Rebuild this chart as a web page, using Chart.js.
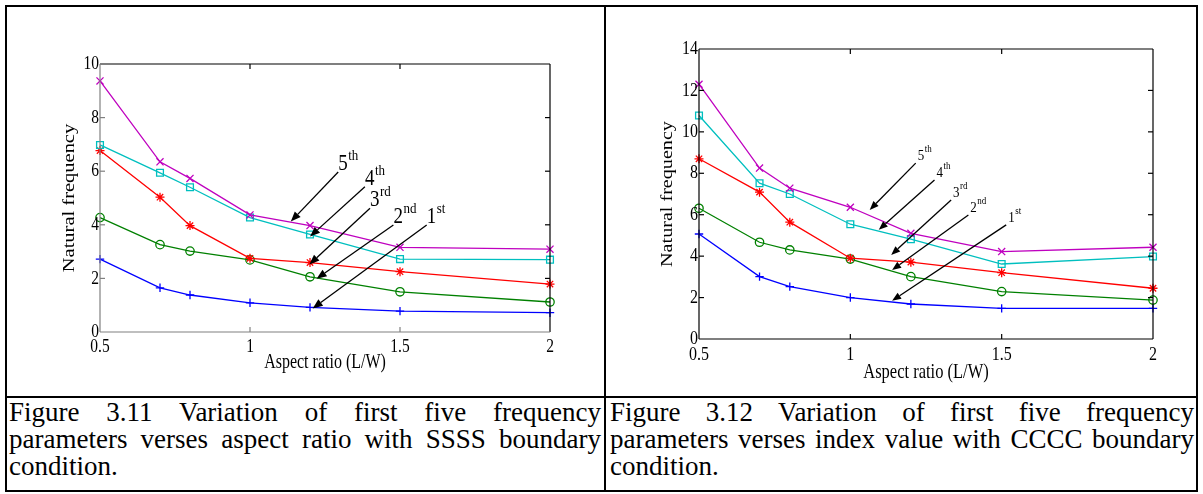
<!DOCTYPE html>
<html>
<head>
<meta charset="utf-8">
<script src="https://cdn.jsdelivr.net/npm/chart.js@4.4.1/dist/chart.umd.min.js"></script>
<style>
  body { margin: 0; background: #fff; width: 1203px; height: 494px; position: relative; overflow: hidden;
         font-family: "Liberation Serif", "Times New Roman", serif; }
  .rule { position: absolute; background: #000; }
  .box { position: absolute; }
  .cap { position: absolute; font-size: 27px; line-height: 27px; text-align: justify; color: #000; }
</style>
</head>
<body>
<div class="rule" style="left:5px;top:5px;width:1193px;height:2px"></div>
<div class="rule" style="left:5px;top:396px;width:1193px;height:2px"></div>
<div class="rule" style="left:5px;top:490px;width:1193px;height:2px"></div>
<div class="rule" style="left:5px;top:5px;width:2px;height:487px"></div>
<div class="rule" style="left:604px;top:5px;width:2px;height:487px"></div>
<div class="rule" style="left:1196px;top:5px;width:2px;height:487px"></div>

<div class="box" style="left:7px;top:7px;width:597px;height:389px"><canvas id="ssss"></canvas></div>
<div class="box" style="left:607px;top:7px;width:589px;height:389px"><canvas id="cccc"></canvas></div>

<div class="cap" style="left:9px;top:399px;width:592px">Figure 3.11 Variation of first five frequency parameters verses aspect ratio with SSSS boundary condition.</div>
<div class="cap" style="left:610px;top:399px;width:584px">Figure 3.12 Variation of first five frequency parameters verses index value with CCCC boundary condition.</div>

<script>
// aspect ratio (L/W)
const aspect = [0.5, 0.7, 0.8, 1.0, 1.2, 1.5, 2.0];

// SSSS boundary condition, modes 1..5
const ssss1 = [2.72, 1.65, 1.38, 1.09, 0.92, 0.78, 0.72];
const ssss2 = [4.27, 3.26, 3.02, 2.69, 2.06, 1.50, 1.12];
const ssss3 = [6.77, 5.03, 3.97, 2.75, 2.59, 2.25, 1.79];
const ssss4 = [6.98, 5.94, 5.40, 4.27, 3.64, 2.72, 2.70];
const ssss5 = [9.37, 6.35, 5.73, 4.37, 3.97, 3.16, 3.09];

// CCCC boundary condition, modes 1..5
const cccc1 = [5.07, 3.01, 2.53, 2.00, 1.69, 1.48, 1.48];
const cccc2 = [6.31, 4.67, 4.30, 3.86, 3.01, 2.29, 1.88];
const cccc3 = [8.70, 7.09, 5.64, 3.90, 3.71, 3.20, 2.45];
const cccc4 = [10.79, 7.52, 7.00, 5.54, 4.82, 3.62, 3.98];
const cccc5 = [12.30, 8.25, 7.28, 6.36, 5.10, 4.22, 4.43];

const xTicks = [0.5, 1, 1.5, 2];
const yTicksSSSS = [0, 2, 4, 6, 8, 10];
const yTicksCCCC = [0, 2, 4, 6, 8, 10, 12, 14];

// arrow labels: [digit, suffix, tail (x, y), head (x, y)] in data units
const ssssNotes = [
  ['5', 'th', [1.294, 5.97], [1.136, 4.12]],
  ['4', 'th', [1.383, 5.42], [1.200, 3.56]],
  ['3', 'rd', [1.400, 4.62], [1.198, 2.52]],
  ['2', 'nd', [1.478, 3.99], [1.222, 1.99]],
  ['1', 'st', [1.589, 3.99], [1.209, 0.88]]
];
const ccccNotes = [
  ['5', 'th', [1.216, 8.49], [1.064, 6.23]],
  ['4', 'th', [1.278, 7.68], [1.094, 5.27]],
  ['3', 'rd', [1.333, 6.71], [1.135, 4.06]],
  ['2', 'nd', [1.390, 5.99], [1.138, 3.33]],
  ['1', 'st', [1.515, 5.51], [1.138, 1.85]]
];

const serif = '"Liberation Serif", "Times New Roman", serif';

function series(ys) {
  return ys.map((v, i) => ({ x: aspect[i], y: v }));
}

function makeDatasets(s1, s2, s3, s4, s5) {
  const base = { showLine: true, borderWidth: 1.3, pointBorderWidth: 1.3, clip: false,
                 backgroundColor: 'transparent', pointBackgroundColor: 'transparent' };
  return [
    { ...base, data: series(s5), borderColor: '#bf00bf', pointBorderColor: '#bf00bf', pointStyle: 'crossRot', pointRadius: 5 },
    { ...base, data: series(s4), borderColor: '#00bfbf', pointBorderColor: '#00bfbf', pointStyle: 'rect', pointRadius: 4.8 },
    { ...base, data: series(s3), borderColor: '#ff0000', pointBorderColor: '#ff0000', pointStyle: 'star', pointRadius: 4.5 },
    { ...base, data: series(s2), borderColor: '#008000', pointBorderColor: '#008000', pointStyle: 'circle', pointRadius: 4.2 },
    { ...base, data: series(s1), borderColor: '#0000ff', pointBorderColor: '#0000ff', pointStyle: 'cross', pointRadius: 4.2 }
  ];
}

// text stretched vertically (the figure's lettering is taller than wide)
function label(ctx, s, x, y, size, sy, align, baseline, rotate) {
  ctx.save();
  ctx.translate(x, y);
  ctx.scale(1, sy);
  if (rotate) ctx.rotate(-Math.PI / 2);
  ctx.font = size + 'px ' + serif;
  ctx.textAlign = align;
  ctx.textBaseline = baseline;
  ctx.fillStyle = '#000';
  ctx.fillText(s, 0, 0);
  const w = ctx.measureText(s).width;
  ctx.restore();
  return w;
}

// matlab-like box with inward ticks, tick labels and axis titles
function makeFrame(yTicks, cfg) {
  return {
    id: 'frame',
    afterDraw(chart) {
      const { ctx, chartArea: a, scales: { x, y } } = chart;
      ctx.save();
      ctx.lineWidth = 1.2;
      const seg = (c, x0, y0, x1, y1) => {
        ctx.strokeStyle = c;
        ctx.beginPath(); ctx.moveTo(x0, y0); ctx.lineTo(x1, y1); ctx.stroke();
      };
      seg('#000', a.left, a.top, a.right, a.top);
      seg('#000', a.right, a.top, a.right, a.bottom);
      seg(cfg.axisColor, a.left, a.top, a.left, a.bottom);
      seg(cfg.axisColor, a.left, a.bottom, a.right, a.bottom);
      xTicks.forEach(v => {
        const px = x.getPixelForValue(v);
        label(ctx, String(v), px, a.bottom + cfg.xLabelGap, cfg.tick, cfg.sy, 'center', 'middle');
        if (px <= a.left + 1 || px >= a.right - 1) return;
        seg(cfg.axisColor, px, a.bottom, px, a.bottom - 5);
        seg('#000', px, a.top, px, a.top + 5);
      });
      yTicks.forEach(v => {
        const py = y.getPixelForValue(v);
        label(ctx, String(v), a.left - 1, py, cfg.tick, cfg.sy, 'right', 'middle');
        if (py <= a.top + 1 || py >= a.bottom - 1) return;
        seg(cfg.axisColor, a.left, py, a.left + 5, py);
        seg('#000', a.right, py, a.right - 5, py);
      });
      label(ctx, 'Aspect ratio (L/W)', (a.left + a.right) / 2, a.bottom + cfg.xTitleGap,
            cfg.title, cfg.sy, 'center', 'middle');
      label(ctx, 'Natural frequency', a.left - cfg.yTitleGap, (a.top + a.bottom) / 2,
            cfg.title, cfg.sy, 'center', 'middle', true);
      ctx.restore();
    }
  };
}

function makeArrows(notes, cfg) {
  return {
    id: 'arrows',
    afterDatasetsDraw(chart) {
      const { ctx, scales: { x, y } } = chart;
      ctx.save();
      ctx.strokeStyle = '#000';
      ctx.fillStyle = '#000';
      ctx.lineWidth = 1.3;
      notes.forEach(([num, sup, from, to]) => {
        const x0 = x.getPixelForValue(from[0]), y0 = y.getPixelForValue(from[1]);
        const x1 = x.getPixelForValue(to[0]), y1 = y.getPixelForValue(to[1]);
        const ang = Math.atan2(y1 - y0, x1 - x0);
        const L = cfg.head, W = cfg.head * 0.4;
        const bx = x1 - L * Math.cos(ang), by = y1 - L * Math.sin(ang);
        ctx.beginPath(); ctx.moveTo(x0, y0); ctx.lineTo(bx, by); ctx.stroke();
        ctx.beginPath();
        ctx.moveTo(x1, y1);
        ctx.lineTo(bx + W * Math.sin(ang), by - W * Math.cos(ang));
        ctx.lineTo(bx - W * Math.sin(ang), by + W * Math.cos(ang));
        ctx.closePath(); ctx.fill();
        const lx = x0 + cfg.dx, ly = y0 + cfg.dy;
        const w = label(ctx, num, lx, ly, cfg.size, cfg.sy, 'left', 'alphabetic');
        label(ctx, sup, lx + w + 0.5, ly - cfg.raise, cfg.supSize, cfg.sy, 'left', 'alphabetic');
      });
      ctx.restore();
    }
  };
}

function makeChart(id, sets, yTicks, notes, g) {
  return new Chart(document.getElementById(id), {
    type: 'scatter',
    data: { datasets: sets },
    options: {
      responsive: true,
      maintainAspectRatio: false,
      animation: false,
      layout: { padding: { left: 0, top: g.top, right: g.right, bottom: 0 } },
      scales: {
        x: {
          type: 'linear', min: xTicks[0], max: xTicks[xTicks.length - 1],
          afterFit: s => { s.height = g.xh; },
          grid: { display: false, drawTicks: false },
          border: { display: false },
          ticks: { display: false }
        },
        y: {
          min: yTicks[0], max: yTicks[yTicks.length - 1],
          afterFit: s => { s.width = g.yw; },
          grid: { display: false, drawTicks: false },
          border: { display: false },
          ticks: { display: false }
        }
      },
      plugins: { legend: { display: false }, tooltip: { enabled: false } }
    },
    plugins: [makeArrows(notes, g.notes), makeFrame(yTicks, g.frame)]
  });
}

makeChart('ssss', makeDatasets(ssss1, ssss2, ssss3, ssss4, ssss5), yTicksSSSS, ssssNotes, {
  top: 57, right: 54, xh: 64, yw: 93,
  notes: { size: 19, supSize: 13, sy: 1.2, raise: 10, dx: 0, dy: -2, head: 10 },
  frame: { axisColor: '#808080', tick: 15.5, title: 16, sy: 1.28, xLabelGap: 15, xTitleGap: 31, yTitleGap: 30 }
});

makeChart('cccc', makeDatasets(cccc1, cccc2, cccc3, cccc4, cccc5), yTicksCCCC, ccccNotes, {
  top: 42, right: 43, xh: 57, yw: 92,
  notes: { size: 13, supSize: 9, sy: 1.2, raise: 8, dx: 2, dy: -3, head: 9 },
  frame: { axisColor: '#000', tick: 16, title: 16.5, sy: 1.22, xLabelGap: 16, xTitleGap: 34, yTitleGap: 31 }
});
</script>
</body>
</html>
